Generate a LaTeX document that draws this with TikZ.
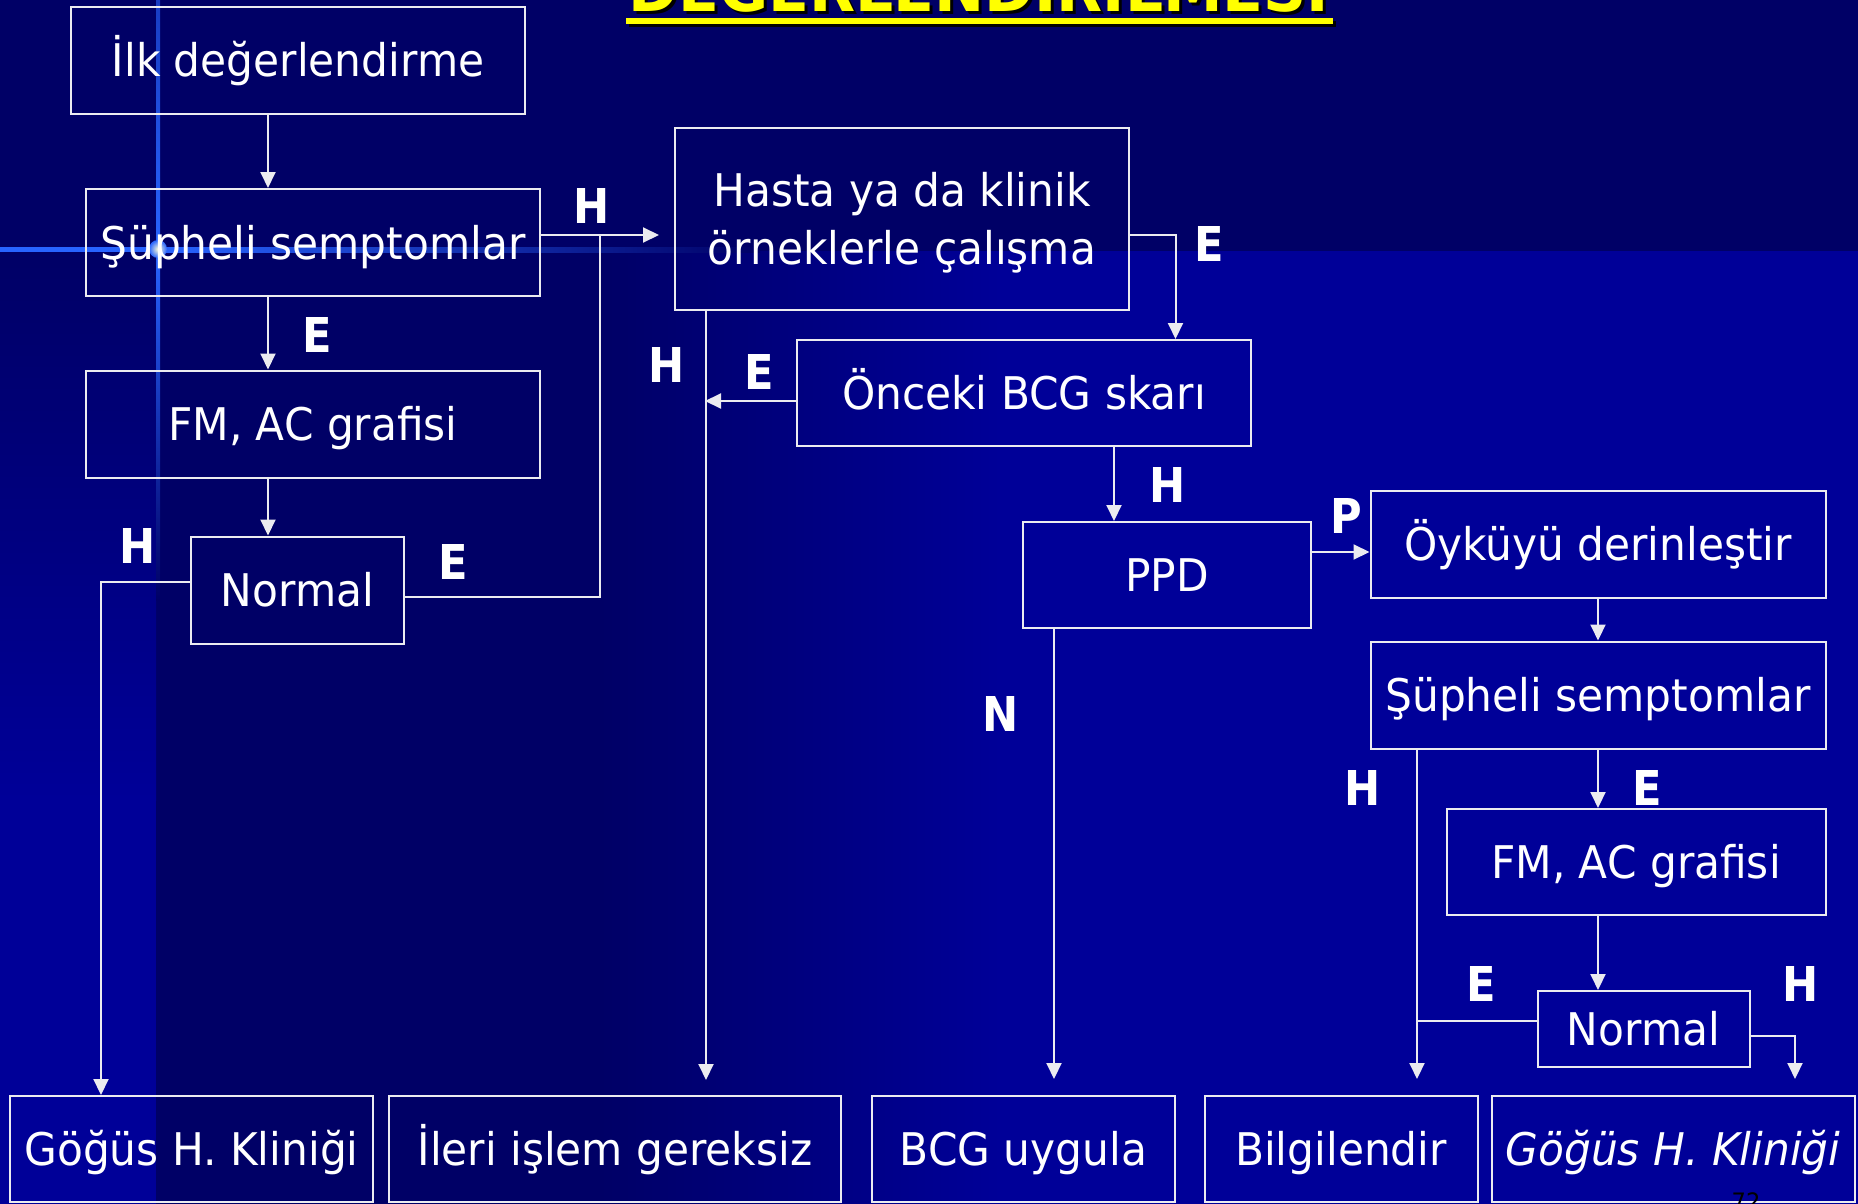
\documentclass[tikz,border=0pt]{standalone}
\usepackage{fontspec}
\setmainfont{DejaVu Sans}[FakeStretch=0.94]
\newfontfamily\rotulofont{DejaVu Sans}[FakeStretch=0.9]
\newfontfamily\titulofont{DejaVu Sans}
\usepackage{graphicx}
\usepackage{tikz}
\usetikzlibrary{arrows.meta}
\definecolor{fundo}{RGB}{0,0,102}
\definecolor{fundoclaro}{RGB}{0,0,152}
\definecolor{brilho}{RGB}{40,100,255}
\definecolor{borda}{RGB}{235,235,240}
\definecolor{amarelo}{RGB}{255,255,0}
\tikzset{
  caixa/.style={draw=borda, line width=2pt, text=white, inner sep=0pt, align=center, text height=33pt, text depth=0pt, font=\fontsize{45}{58}\selectfont},
  rotulo/.style={text=white, inner sep=0pt, anchor=base, font=\rotulofont\bfseries\fontsize{48}{48}\selectfont},
  linha/.style={draw=borda, line width=2pt},
  seta/.style={linha, ->},
}

\begin{document}
\begin{tikzpicture}[x=1pt, y=-1pt, >={Triangle[width=15pt,length=16pt]}]
% Fundo
\useasboundingbox (0,0) rectangle (1858,1204);
\fill[fundo] (0,0) rectangle (1858,1204);
\shade[left color=fundo, right color=fundoclaro] (600,251) rectangle (1000,1204);
\fill[fundoclaro] (1000,251) rectangle (1858,1204);
\shade[top color=fundo, bottom color=fundoclaro] (0,251) rectangle (156,800);
\fill[fundoclaro] (0,800) rectangle (156,1204);
% Brilho
\shade[top color=brilho!60!fundo, bottom color=brilho] (156,0) rectangle (160,249);
\shade[top color=brilho, bottom color=fundo] (156,249) rectangle (160,600);
\fill[brilho] (0,247) rectangle (158,252);
\shade[left color=brilho, right color=fundo] (158,247) rectangle (760,252);
\shade[inner color=white!85!yellow, outer color=brilho] (158,249) circle (9);
% Titulo
\node[anchor=base, inner sep=0pt, text=black] at (982,15) {\resizebox{700pt}{56pt}{\titulofont\bfseries DEĞERLENDİRİLMESİ}};
\node[anchor=base, inner sep=0pt, text=amarelo] (titulo) at (979,12) {\resizebox{700pt}{56pt}{\titulofont\bfseries DEĞERLENDİRİLMESİ}};
\fill[black] (629,21) rectangle (1336,27);
\fill[amarelo] (626,18) rectangle (1333,24);
% Caixas
\node[caixa, minimum width=454pt, minimum height=107pt] (ilk) at (298,60.5) {İlk değerlendirme};
\node[caixa, minimum width=454pt, minimum height=107pt] (supL) at (313,242.5) {Şüpheli semptomlar};
\node[caixa, minimum width=454pt, minimum height=107pt] (fmL) at (313,424) {FM, AC grafisi};
\node[caixa, minimum width=213pt, minimum height=107pt] (normL) at (297.5,590) {Normal};
\node[caixa, minimum width=454pt, minimum height=181pt, text height=91pt] (hasta) at (902,219) {Hasta ya da klinik\\örneklerle çalışma};
\node[caixa, minimum width=454pt, minimum height=106pt] (onceki) at (1024,393) {Önceki BCG skarı};
\node[caixa, minimum width=288pt, minimum height=106pt] (ppd) at (1167,575) {PPD};
\node[caixa, minimum width=455pt, minimum height=107pt] (oyku) at (1598,544) {Öyküyü derinleştir};
\node[caixa, minimum width=455pt, minimum height=107pt] (supR) at (1598,695) {Şüpheli semptomlar};
\node[caixa, minimum width=379pt, minimum height=106pt] (fmR) at (1636,862) {FM, AC grafisi};
\node[caixa, minimum width=212pt, minimum height=76pt] (normR) at (1643.5,1029) {Normal};
\node[caixa, minimum width=363pt, minimum height=106pt] (gogusL) at (191.5,1149) {Göğüs H. Kliniği};
\node[caixa, minimum width=452pt, minimum height=106pt] (ileri) at (615,1149) {İleri işlem gereksiz};
\node[caixa, minimum width=303pt, minimum height=106pt] (bcg) at (1023.5,1149) {BCG uygula};
\node[caixa, minimum width=273pt, minimum height=106pt] (bilgi) at (1341,1149) {Bilgilendir};
\node[caixa, minimum width=363pt, minimum height=106pt] (gogusR) at (1673,1149) {\itshape Göğüs H. Kliniği};
\node[anchor=north, inner sep=0pt, text=black, font=\fontsize{24}{24}\selectfont] (pagina) at (1746,1192) {72};
% Setas
\draw[seta] ([xshift=-30pt]ilk.south) -- ([xshift=-45pt]supL.north);
\draw[seta] ([xshift=-45pt]supL.south) -- ([xshift=-45pt]fmL.north);
\draw[seta] ([xshift=-45pt]fmL.south) -- ([xshift=-29.5pt]normL.north);
\coordinate (jL) at (600,235);
\draw[seta, shorten >=15pt] ([yshift=7.5pt]supL.east) -- ([yshift=-16pt]hasta.west);
\draw[linha] ([yshift=-7pt]normL.east) -| (jL);
\draw[seta] ([yshift=8pt]normL.west) -| ([xshift=-90.5pt]gogusL.north);
\draw[seta, shorten >=15pt] ([xshift=-196pt]hasta.south) -- ([xshift=91pt]ileri.north);
\draw[seta] ([yshift=-8pt]onceki.west) -- ([xshift=-91pt,yshift=-8pt]onceki.west);
\draw[seta] ([yshift=-16pt]hasta.east) -| ([xshift=151.5pt]onceki.north);
\draw[seta] ([xshift=90pt]onceki.south) -- ([xshift=-53pt]ppd.north);
\draw[seta] ([yshift=23pt]ppd.east) -- ([yshift=-8pt]oyku.west);
\draw[seta, shorten >=16pt] ([xshift=-113pt]ppd.south) -- ([xshift=30.5pt]bcg.north);
\draw[seta] (oyku.south) -- (supR.north);
\draw[seta] (supR.south) -- ([xshift=-38pt]fmR.north);
\draw[seta] ([xshift=-38pt]fmR.south) -- ([xshift=-45.5pt]normR.north);
\coordinate (jR) at (1417,1021);
\draw[seta, shorten >=16pt] ([xshift=-181pt]supR.south) -- ([xshift=76pt]bilgi.north);
\draw[linha] ([yshift=8pt]normR.west) -- (jR);
\draw[seta, shorten >=16pt] ([yshift=-7pt]normR.east) -| ([xshift=122pt]gogusR.north);
% Rotulos
\node[rotulo] (rH1) at (592,223) {H};
\node[rotulo] (rE1) at (317,352) {E};
\node[rotulo] (rH2) at (138,563) {H};
\node[rotulo] (rE2) at (453,579) {E};
\node[rotulo] (rH3) at (667,382) {H};
\node[rotulo] (rE3) at (1209,261) {E};
\node[rotulo] (rE4) at (759,389) {E};
\node[rotulo] (rH4) at (1168,502) {H};
\node[rotulo] (rP) at (1346,533) {P};
\node[rotulo] (rN) at (1001,731) {N};
\node[rotulo] (rH5) at (1363,805) {H};
\node[rotulo] (rE5) at (1647,805) {E};
\node[rotulo] (rE6) at (1481,1001) {E};
\node[rotulo] (rH6) at (1801,1001) {H};
\end{tikzpicture}
\end{document}
